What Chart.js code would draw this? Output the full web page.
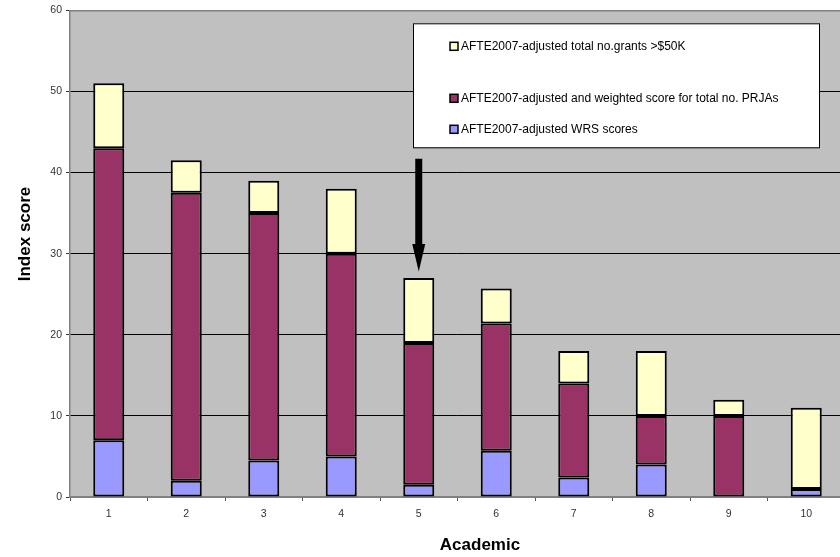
<!DOCTYPE html>
<html>
<head>
<meta charset="utf-8">
<script src="https://cdn.jsdelivr.net/npm/chart.js@4/dist/chart.umd.min.js"></script>
<style>
html,body{margin:0;padding:0;background:#fff;overflow:hidden;width:840px;height:557px;}
#wrap{width:845px;height:557px;}
</style>
</head>
<body>
<div id="wrap"><canvas id="c" width="845" height="557"></canvas></div>
<script>
const categories = ['1','2','3','4','5','6','7','8','9','10'];
const wrsScores = [7, 2, 4.5, 5, 1.5, 5.7, 2.4, 4, 0, 1];
const prjaScores = [36, 35.5, 30.5, 25, 17.5, 15.7, 11.6, 6, 10, 0];
const grantScores = [8, 4, 4, 8, 8, 4.3, 4, 8, 2, 10];
const seriesLabels = [
  'AFTE2007-adjusted WRS scores',
  'AFTE2007-adjusted and weighted score for total no. PRJAs',
  'AFTE2007-adjusted total no.grants >$50K'
];
const yTicks = [0, 10, 20, 30, 40, 50, 60];
const highlightIndex = 4;

const FONT = 'Liberation Sans, Arial, sans-serif';

const bgPlugin = {
  id: 'bg',
  beforeDraw(chart) {
    const {ctx, chartArea: a} = chart;
    ctx.save();
    ctx.fillStyle = '#C0C0C0';
    ctx.fillRect(a.left, a.top, a.right - a.left, a.bottom - a.top);
    ctx.restore();
  }
};

const overlayPlugin = {
  id: 'overlay',
  afterDraw(chart) {
    const {ctx, chartArea: a, scales} = chart;
    ctx.save();
    // top border
    ctx.strokeStyle = '#808080';
    ctx.lineWidth = 1.5;
    ctx.beginPath();
    ctx.moveTo(a.left, a.top + 0.5);
    ctx.lineTo(a.right, a.top + 0.5);
    ctx.stroke();

    // arrow pointing at highlighted academic
    const ax = scales.x.getPixelForValue(highlightIndex);
    const y1 = scales.y.getPixelForValue(41.7);
    const yHeadStart = scales.y.getPixelForValue(31.2);
    const y2 = scales.y.getPixelForValue(27.8);
    ctx.fillStyle = '#000';
    ctx.fillRect(ax - 3.5, y1, 7, yHeadStart - y1 + 2);
    ctx.beginPath();
    ctx.moveTo(ax - 6.5, yHeadStart);
    ctx.lineTo(ax + 6.5, yHeadStart);
    ctx.lineTo(ax, y2);
    ctx.closePath();
    ctx.fill();

    // legend box
    const lx = a.left + 343, ly = a.top + 13, lw = 406, lh = 124;
    ctx.fillStyle = '#fff';
    ctx.fillRect(lx, ly, lw, lh);
    ctx.strokeStyle = '#000';
    ctx.lineWidth = 1;
    ctx.strokeRect(lx + 0.5, ly + 0.5, lw, lh);
    const ds = chart.data.datasets.slice().reverse();
    const rowY = [ly + 23, ly + 75, ly + 106];
    ctx.font = '12px ' + FONT;
    ctx.textBaseline = 'middle';
    ds.forEach((d, i) => {
      const sx = lx + 37, sy = rowY[i] - 4;
      ctx.fillStyle = d.backgroundColor;
      ctx.fillRect(sx, sy, 8, 8);
      ctx.strokeStyle = '#000';
      ctx.lineWidth = 1.5;
      ctx.strokeRect(sx, sy, 8, 8);
      ctx.fillStyle = '#000';
      ctx.fillText(d.label, sx + 11, rowY[i]);
    });

    // axis titles
    ctx.fillStyle = '#000';
    ctx.font = 'bold 17px ' + FONT;
    ctx.textAlign = 'center';
    ctx.textBaseline = 'middle';
    ctx.fillText('Academic', a.left + 410, 545);
    ctx.translate(25, 234);
    ctx.rotate(-Math.PI / 2);
    ctx.fillText('Index score', 0, 0);
    ctx.restore();
  }
};

const common = {
  borderColor: '#000',
  borderWidth: 2,
  borderSkipped: false,
  barPercentage: 0.4,
  categoryPercentage: 1.0
};

new Chart(document.getElementById('c'), {
  type: 'bar',
  data: {
    labels: categories,
    datasets: [
      Object.assign({label: seriesLabels[0], data: wrsScores, backgroundColor: '#9999FF'}, common),
      Object.assign({label: seriesLabels[1], data: prjaScores, backgroundColor: '#993366'}, common),
      Object.assign({label: seriesLabels[2], data: grantScores, backgroundColor: '#FFFFCC'}, common)
    ]
  },
  options: {
    responsive: false,
    animation: false,
    layout: {padding: {top: 10, right: 0, left: 0, bottom: 0}},
    plugins: {legend: {display: false}, tooltip: {enabled: false}, title: {display: false}},
    scales: {
      x: {
        stacked: true,
        grid: {display: true, drawOnChartArea: false, drawTicks: true, tickLength: 4, color: '#555', offset: true},
        border: {display: true, color: '#808080', width: 1.5},
        ticks: {color: '#333', font: {family: FONT, size: 10.5}, padding: 7, maxRotation: 0},
        afterFit(s) { s.height = 60; }
      },
      y: {
        stacked: true,
        min: 0, max: 60,
        afterBuildTicks(s) { s.ticks = yTicks.map(v => ({value: v})); },
        grid: {color: (c) => (c.tick && (c.tick.value === 0 || c.tick.value === 60)) ? '#808080' : '#000', lineWidth: 1, tickLength: 4, tickColor: '#333'},
        border: {display: true, color: '#808080', width: 1.5},
        ticks: {color: '#333', font: {family: FONT, size: 10.5}, padding: 4},
        afterFit(s) { s.width = 70; }
      }
    }
  },
  plugins: [bgPlugin, overlayPlugin]
});
</script>
</body>
</html>
